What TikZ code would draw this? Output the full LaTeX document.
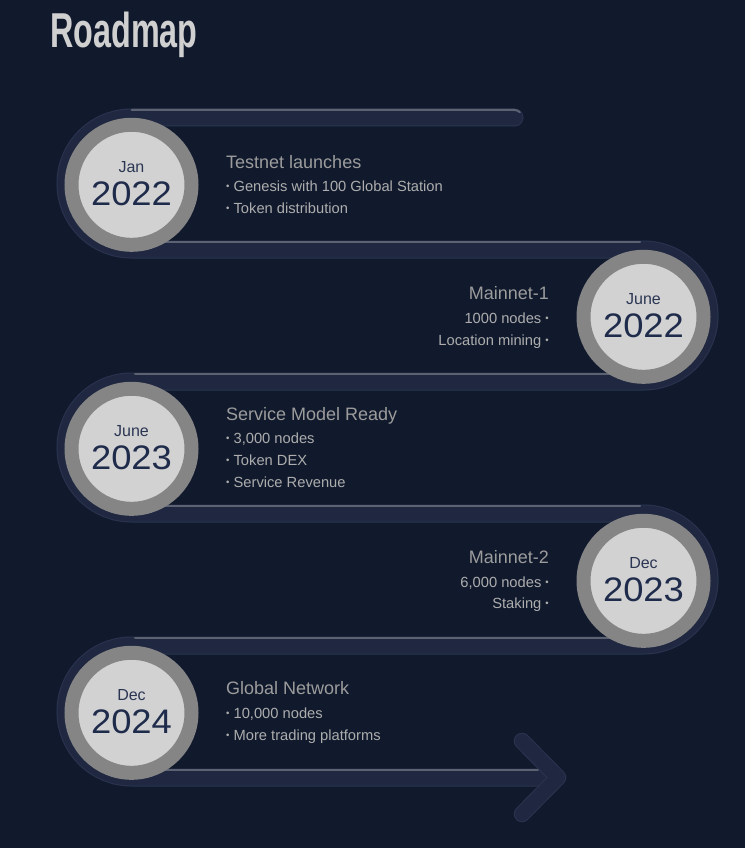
\documentclass[tikz,border=0pt]{standalone}
\usepackage{fontspec}
\setmainfont{Liberation Sans}
\usepackage{graphicx}
\usetikzlibrary{calc}
\definecolor{bg}{HTML}{111A2D}
\definecolor{bandc}{HTML}{1F2840}
\definecolor{bandedge}{HTML}{2A3450}
\definecolor{topline}{HTML}{5C6272}
\definecolor{ringc}{HTML}{858585}
\definecolor{discc}{HTML}{D2D2D2}
\definecolor{yearc}{HTML}{1F2B4B}
\definecolor{monthc}{HTML}{2B3653}
\definecolor{titc}{HTML}{9C9C9C}
\definecolor{bulc}{HTML}{ADADAD}
\definecolor{headc}{HTML}{D0D0D0}
\newcommand\bdot{\raisebox{0.1em}{\scalebox{0.65}{•}}}
\newcommand\yr[1]{\scalebox{1.07}[1]{#1}}
\begin{document}
\begin{tikzpicture}[x=1pt,y=-1pt,
  bandout/.style={draw=bandedge, line width=18pt, line cap=round, line join=round},
  bandin/.style={draw=bandc, line width=16pt, line cap=round, line join=round},
  topedge/.style={draw=topline, line width=2pt, line cap=round},
  datecirc/.style={circle, draw=ringc, line width=14pt, fill=discc, minimum size=120pt, inner sep=0pt},
  monthtxt/.style={anchor=base, text=monthc, font=\fontsize{16}{16}\selectfont, inner sep=0pt},
  yeartxt/.style={anchor=base, text=yearc, font=\fontsize{34}{34}\selectfont, inner sep=0pt},
  headl/.style={anchor=base west, text=titc, font=\fontsize{18}{18}\selectfont, inner sep=0pt},
  bull/.style={anchor=base west, text=bulc, font=\fontsize{14.7}{14.7}\selectfont, inner sep=0pt},
  headr/.style={anchor=base east, text=titc, font=\fontsize{18}{18}\selectfont, inner sep=0pt},
  bulr/.style={anchor=base east, text=bulc, font=\fontsize{14.7}{14.7}\selectfont, inner sep=0pt},
  titlestyle/.style={anchor=base west, text=headc, inner sep=0pt}
]
\useasboundingbox (0,0) rectangle (745,848);
\fill[bg] (0,0) rectangle (745,848);

% title
\node[titlestyle] (title) at (50,48) {\scalebox{0.66}[1]{\fontsize{49}{49}\selectfont\bfseries Roadmap}};

% serpentine band
\foreach \s in {bandout,bandin}{
  \draw[\s] (514.5,117.5) -- (131.5,117.5)
     arc[start angle=-90, end angle=-270, radius=66] -- (643.5,249.5)
     arc[start angle=-90, end angle=90, radius=66] -- (131.5,381.5)
     arc[start angle=-90, end angle=-270, radius=66] -- (643.5,513.5)
     arc[start angle=-90, end angle=90, radius=66] -- (131.5,645.5)
     arc[start angle=-90, end angle=-270, radius=66] -- (548,777.5);
}
% top highlight lines on the straight runs
\draw[topedge] (131.5,110) -- (514.5,110) arc[start angle=-90, end angle=-45, radius=7.5];
\draw[topedge] (131.5,242) -- (640,242);
\draw[topedge] (135,374) -- (643.5,374);
\draw[topedge] (131.5,506) -- (640,506);
\draw[topedge] (135,638) -- (643.5,638);
\draw[topedge] (131.5,770) -- (538,770);

% arrow head
\coordinate (aup) at (522,741);
\coordinate (atip) at (558,777.5);
\coordinate (alo) at (522,814);
\draw[bandedge, line width=16.5pt, line cap=round, line join=round] (aup) -- (atip) -- (alo);
\draw[bandc, line width=14.5pt, line cap=round, line join=round] (aup) -- (atip) -- (alo);

% date circles
\node[datecirc] (c1) at (131.5,184.8) {};
\node[datecirc] (c2) at (643.5,316.8) {};
\node[datecirc] (c3) at (131.5,448.8) {};
\node[datecirc] (c4) at (643.5,580.8) {};
\node[datecirc] (c5) at (131.5,712.8) {};

\node[monthtxt] (m1) at ($(c1)+(0,-12.5)$) {Jan};
\node[yeartxt] (y1) at ($(c1)+(0,21)$) {\yr{2022}};
\node[monthtxt] (m2) at ($(c2)+(0,-12.5)$) {June};
\node[yeartxt] (y2) at ($(c2)+(0,21)$) {\yr{2022}};
\node[monthtxt] (m3) at ($(c3)+(0,-12.5)$) {June};
\node[yeartxt] (y3) at ($(c3)+(0,21)$) {\yr{2023}};
\node[monthtxt] (m4) at ($(c4)+(0,-12.5)$) {Dec};
\node[yeartxt] (y4) at ($(c4)+(0,21)$) {\yr{2023}};
\node[monthtxt] (m5) at ($(c5)+(0,-12.5)$) {Dec};
\node[yeartxt] (y5) at ($(c5)+(0,21)$) {\yr{2024}};

% texts
\node[headl] (t1) at (226,168) {Testnet launches};
\node[bull] (t1a) at (226,191) {\bdot{} Genesis with 100 Global Station};
\node[bull] (t1b) at (226,213) {\bdot{} Token distribution};

\node[headr] (t2) at (549,299) {Mainnet-1};
\node[bulr] (t2a) at (549,323) {1000 nodes \bdot};
\node[bulr] (t2b) at (549,345) {Location mining \bdot};

\node[headl] (t3) at (226,420) {Service Model Ready};
\node[bull] (t3a) at (226,443) {\bdot{} 3,000 nodes};
\node[bull] (t3b) at (226,465) {\bdot{} Token DEX};
\node[bull] (t3c) at (226,487) {\bdot{} Service Revenue};

\node[headr] (t4) at (549,563) {Mainnet-2};
\node[bulr] (t4a) at (549,587) {6,000 nodes \bdot};
\node[bulr] (t4b) at (549,608) {Staking \bdot};

\node[headl] (t5) at (226,694) {Global Network};
\node[bull] (t5a) at (226,718) {\bdot{} 10,000 nodes};
\node[bull] (t5b) at (226,740) {\bdot{} More trading platforms};
\end{tikzpicture}
\end{document}
